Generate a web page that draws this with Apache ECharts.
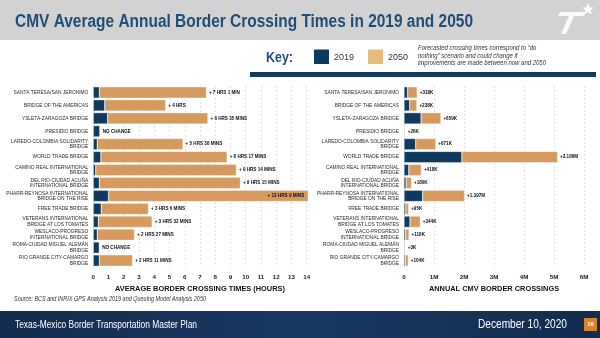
<!DOCTYPE html>
<html><head><meta charset="utf-8">
<script src="https://cdn.jsdelivr.net/npm/echarts@6/dist/echarts.min.js"></script>
<style>html,body{margin:0;padding:0;background:#fff}#c{width:600px;height:338px}</style>
</head><body><div id="c"></div>
<script>
const categories = ['SANTA TERESA/SAN JERONIMO','BRIDGE OF THE AMERICAS','YSLETA-ZARAGOZA BRIDGE','PRESIDIO BRIDGE','LAREDO-COLOMBIA SOLIDARITY\nBRIDGE','WORLD TRADE BRIDGE','CAMINO REAL INTERNATIONAL\nBRIDGE','DEL RIO-CIUDAD ACUÑA\nINTERNATIONAL BRIDGE','PHARR-REYNOSA INTERNATIONAL\nBRIDGE ON THE RISE','FREE TRADE BRIDGE','VETERANS INTERNATIONAL\nBRIDGE AT LOS TOMATES','WESLACO-PROGRESO\nINTERNATIONAL BRIDGE','ROMA-CIUDAD MIGUEL ALEMÁN\nBRIDGE','RIO GRANDE CITY-CAMARGO\nBRIDGE'];
const time2019 = [0.4,0.75,0.94,0.44,0.26,0.5,0.16,0.4,1.0,0.52,0.33,0.26,0.4,0.4];
const time2050 = [7.42,4.75,7.52,0.44,5.89,8.78,9.39,9.65,14.1,3.62,3.86,2.71,0.4,2.58];
const timeLabels = ['+ 7 HRS 1 MIN','+ 4 HRS','+ 6 HRS 35 MINS','NO CHANGE','+ 5 HRS 38 MINS','+ 8 HRS 17 MINS','+ 9 HRS 14 MINS','+ 9 HRS 15 MINS','+ 13 HRS 9 MINS','+ 3 HRS 6 MINS','+ 3 HRS 32 MINS','+ 2 HRS 27 MINS','NO CHANGE','+ 2 HRS 11 MINS'];
const cross2019 = [0.12,0.19,0.57,0.015,0.39,1.93,0.16,0.07,0.62,0.06,0.2,0.05,0.03,0.04];
const cross2050 = [0.44,0.43,1.23,0.041,1.06,5.12,0.58,0.25,2.02,0.155,0.544,0.168,0.033,0.144];
const crossLabels = ['+318K','+238K','+659K','+26K','+671K','+3.186M','+418K','+180K','+1.397M','+95K','+344K','+118K','+3K','+104K'];
const timeTicks = {min:0, max:14, interval:1};
const crossTicks = {min:0, max:6, interval:1};

const NAVY = '#0f3a5f', ORANGE = '#d69a5f', KEYORANGE = '#e8bc7c';
const NARROW = '"Liberation Sans Narrow","Liberation Sans",Arial,sans-serif';

function measure(text, font){const c=document.createElement('canvas').getContext('2d');c.font=font;return c.measureText(text).width;}
function fitText(x, y, text, font, width, style){
  return {type:'text', x:x, y:y, scaleX: width / measure(text, font), originX: style && style.align==='right' ? 0 : 0,
    style:Object.assign({text:text, font:font, verticalAlign:'middle'}, style||{})};
}
const titleText = 'CMV Average Annual Border Crossing Times in 2019 and 2050';
const footText = 'Texas-Mexico Border Transportation Master Plan';
const dateText = 'December 10, 2020';
const srcText = 'Source: BCS and INRIX GPS Analysis 2019 and Queuing Model Analysis 2050';

const chart = echarts.init(document.getElementById('c'), null, {renderer:'canvas'});

function barLabelCfg(){return {show:true, position:'right', distance:2.5, fontFamily:NARROW, fontWeight:'bold', fontSize:4.6, color:'#111'};}

const leftDelta = time2050.map((v,i)=>({value: +(v - time2019[i]).toFixed(3), label: Object.assign(barLabelCfg(), {formatter: timeLabels[i]}, timeLabels[i].indexOf('13 HRS')>=0 ? {position:'insideRight', distance:4} : {})}));
const rightDelta = cross2050.map((v,i)=>({value: +(v - cross2019[i]).toFixed(4), label: Object.assign(barLabelCfg(), {formatter: crossLabels[i]})}));

const catAxis = (gi)=>({type:'category', gridIndex:gi, data:categories, inverse:true,
  axisLine:{show:true, lineStyle:{color:'#d8d8d8', width:1}}, axisTick:{show:false},
  axisLabel:{fontFamily:NARROW, fontSize:4.85, lineHeight:5.3, color:'#2a2a2a', margin:5}});
const valAxis = (gi, t, name, fmt)=>({type:'value', gridIndex:gi, min:t.min, max:t.max, interval:t.interval,
  name:name, nameLocation:'middle', nameGap:18, nameTextStyle:{fontFamily:NARROW, fontWeight:'bold', fontSize:7.4, color:'#111'},
  axisLine:{show:false}, axisTick:{show:false},
  axisLabel:{fontFamily:NARROW, fontWeight:'bold', fontSize:6.2, color:'#222', margin:7, formatter:fmt},
  splitLine:{show:true, lineStyle:{color:'#e2e2e2', type:[2,2], width:1}}});

const barCommon = {barCategoryGap:'12%', clip:false, itemStyle:{borderColor:'rgba(255,255,255,0.7)', borderWidth:0.5}};

const dateFont = '12px ' + NARROW;
const dateScale = 89 / measure(dateText, dateFont);

chart.setOption({
  animation:false,
  backgroundColor:'#ffffff',
  grid:[{left:93.3, top:86, width:213.4, height:181},{left:404, top:86, width:180, height:181}],
  xAxis:[valAxis(0, timeTicks, 'AVERAGE BORDER CROSSING TIMES (HOURS)', v=>String(v)),
         valAxis(1, crossTicks, 'ANNUAL CMV BORDER CROSSINGS', v=> v===0 ? '0' : v+'M')],
  yAxis:[catAxis(0), catAxis(1)],
  series:[
    Object.assign({type:'bar', name:'2019', xAxisIndex:0, yAxisIndex:0, stack:'t', data:time2019, color:NAVY}, barCommon),
    Object.assign({type:'bar', name:'2050', xAxisIndex:0, yAxisIndex:0, stack:'t', data:leftDelta, color:ORANGE}, barCommon),
    Object.assign({type:'bar', name:'2019', xAxisIndex:1, yAxisIndex:1, stack:'c', data:cross2019, color:NAVY}, barCommon),
    Object.assign({type:'bar', name:'2050', xAxisIndex:1, yAxisIndex:1, stack:'c', data:rightDelta, color:ORANGE}, barCommon)
  ],
  graphic:[
    {type:'rect', shape:{x:0,y:0,width:600,height:40}, style:{fill:'#d2d2d2'}, z:-1},
    fitText(15, 22, titleText, 'bold 18px ' + NARROW, 458, {fill:'#1f4e79'}),
    // logo (decorative)
    {type:'polygon', shape:{points:[[560,12],[586,12],[584,16],[574,16],[566,34],[561,34],[569,16],[558,16]]}, style:{fill:'#ffffff', opacity:0.9}},
    {type:'polygon', shape:{points:[[588,3],[589.6,7.5],[594,7.6],[590.5,10.2],[591.8,14.6],[588,12],[584.2,14.6],[585.5,10.2],[582,7.6],[586.4,7.5]]}, style:{fill:'#ffffff'}},
    // key
    fitText(266, 58, 'Key:', 'bold 14px ' + NARROW, 27, {fill:'#1f4e79'}),
    {type:'rect', shape:{x:314,y:49.5,width:15,height:14.5}, style:{fill:NAVY}},
    {type:'text', x:334, y:57.5, style:{text:'2019', font:'9px ' + NARROW, fill:'#333', verticalAlign:'middle'}},
    {type:'rect', shape:{x:368,y:49.5,width:15,height:14.5}, style:{fill:KEYORANGE}},
    {type:'text', x:388, y:57.5, style:{text:'2050', font:'9px ' + NARROW, fill:'#333', verticalAlign:'middle'}},
    {type:'text', x:418, y:44.5, scaleX:0.95, style:{text:'Forecasted crossing times correspond to \u201cdo\nnothing\u201d scenario and could change if\nimprovements are made between now and 2050', font:'italic 6.3px ' + NARROW, lineHeight:7.5, fill:'#333'}},
    {type:'rect', shape:{x:250,y:72,width:346,height:5}, style:{fill:'#123a5e'}},
    // source
    fitText(14, 299, srcText, 'italic 6.8px ' + NARROW, 192, {fill:'#333'}),
    // footer
    {type:'rect', shape:{x:0,y:311,width:600,height:27}, style:{fill:new echarts.graphic.LinearGradient(0,0,1,0,[{offset:0,color:'#122c4d'},{offset:0.5,color:'#1a3a63'},{offset:1,color:'#122c4d'}])}},
    fitText(15, 325, footText, '11px ' + NARROW, 182, {fill:'#ffffff'}),
    {type:'text', x:478, y:325, scaleX:dateScale, style:{text:dateText, font:dateFont, fill:'#ffffff', verticalAlign:'middle'}},
    {type:'rect', shape:{x:584,y:318,width:13,height:13}, style:{fill:'#d9822b'}},
    {type:'text', x:590.5, y:324.5, style:{text:'16', font:'bold 6px ' + NARROW, fill:'#ffffff', verticalAlign:'middle', align:'center'}}
  ]
});
</script></body></html>
